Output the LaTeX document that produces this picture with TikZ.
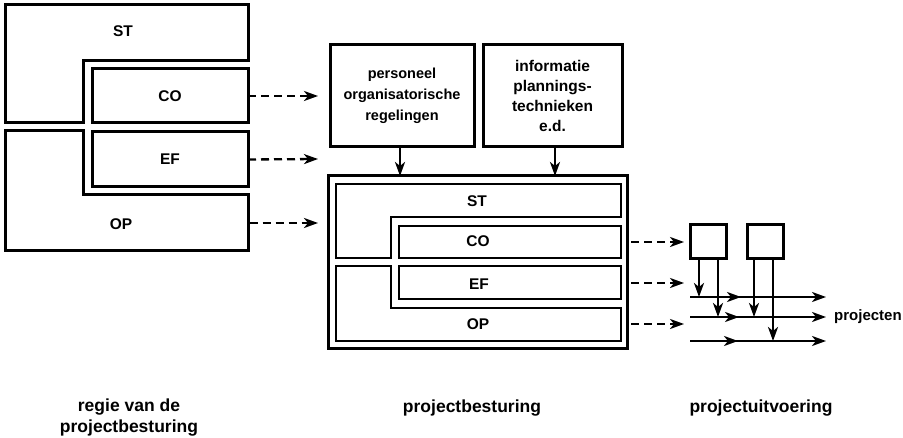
\documentclass[tikz,border=0pt]{standalone}
\usepackage{fontspec}
\setmainfont{Liberation Sans}
\usetikzlibrary{arrows.meta}

\begin{document}
\begin{tikzpicture}[x=1pt,y=-1pt,
  frame/.style={draw, line width=3pt, line join=miter},
  box/.style={draw, line width=3pt, rectangle, inner sep=0pt, outer sep=0pt},
  thinbox/.style={draw, line width=2.6pt, rectangle, inner sep=0pt, outer sep=0pt},
  lbl/.style={font=\fontsize{15.5}{18}\selectfont\bfseries, inner sep=0pt},
  txt/.style={font=\fontsize{14.5}{21}\selectfont\bfseries, align=center, inner sep=0pt},
  captext/.style={font=\fontsize{17.5}{21}\selectfont\bfseries, align=center, inner sep=0pt},
  tip/.style={-{Stealth[length=14pt,width=10pt,inset=4pt]}},
  flow/.style={line width=2.3pt, tip},
  feed/.style={line width=2.3pt, dash pattern=on 8pt off 5pt, tip},
]
\useasboundingbox (0,0) rectangle (903,438);

% ---------- regie van de projectbesturing ----------
\draw[frame] (5,5) -- (248,5) -- (248,61) -- (83,61) -- (83,123) -- (5,123) -- cycle;
\node[lbl] (lST) at (123,31) {ST};
\node[box, minimum width=156pt, minimum height=54pt] (lCO) at (170,96) {};
\node[lbl] at (lCO) {CO};
\node[box, minimum width=156pt, minimum height=55pt] (lEF) at (170,159.5) {};
\node[lbl] at (lEF) {EF};
\draw[frame] (5,131) -- (83,131) -- (83,195) -- (248,195) -- (248,251) -- (5,251) -- cycle;
\node[lbl] (lOP) at (121,224) {OP};
\coordinate (lOPe) at (249.5,223);

\coordinate (tCO) at (318,96);
\coordinate (tEF) at (318,159);
\coordinate (tOP) at (318,223);
\draw[feed] (lCO.east) -- (tCO);
\draw[feed] (lEF.east) -- (tEF);
\draw[feed] (lOPe) -- (tOP);

% ---------- projectbesturing ----------
\node[box, minimum width=144pt, minimum height=102pt, txt] (mP) at (402,96)
  {personeel\\organisatorische\\regelingen};
\node[box, minimum width=139pt, minimum height=102pt, txt,
  font=\fontsize{15.5}{20}\selectfont\bfseries] (mI) at (552.5,96)
  {informatie\\plannings-\\technieken\\e.d.};
\node[box, minimum width=299pt, minimum height=173pt] (mF) at (477.5,262.5) {};

\draw[flow] (mP.south -| 400,0) -- (mF.north -| 400,0);
\draw[flow] (mI.south -| 555,0) -- (mF.north -| 555,0);

\draw[thinbox] (336,184) -- (621,184) -- (621,217) -- (391,217) -- (391,258) -- (336,258) -- cycle;
\node[lbl] (mST) at (477,201) {ST};
\node[thinbox, minimum width=222pt, minimum height=32pt] (mCO) at (510,242) {};
\node[lbl] at (478,241) {CO};
\node[thinbox, minimum width=222pt, minimum height=33pt] (mEF) at (510,282.5) {};
\node[lbl] at (479,284) {EF};
\draw[thinbox] (336,266) -- (391,266) -- (391,308) -- (621,308) -- (621,341) -- (336,341) -- cycle;
\node[lbl] (mOP) at (478,324) {OP};

\coordinate (sCO) at (631,242);
\coordinate (sEF) at (631,283);
\coordinate (sOP) at (631,324);
\coordinate (eCO) at (684,242);
\coordinate (eEF) at (684,283);
\coordinate (eOP) at (684,324);
\draw[feed] (sCO) -- (eCO);
\draw[feed] (sEF) -- (eEF);
\draw[feed] (sOP) -- (eOP);

% ---------- projectuitvoering ----------
\node[box, minimum width=36pt, minimum height=34pt] (b1) at (708,242) {};
\node[box, minimum width=36pt, minimum height=34pt] (b2) at (765,242) {};

\coordinate (r1s) at (690,297);
\coordinate (r2s) at (690,317);
\coordinate (r3s) at (690,341);
\coordinate (r1m) at (741,297);
\coordinate (r2m) at (739,317);
\coordinate (r3m) at (738,341);
\coordinate (r1e) at (826,297);
\coordinate (r2e) at (826,317);
\coordinate (r3e) at (826,341);
\draw[flow] (r1s) -- (r1m);
\draw[flow] (r1m) ++(-5,0) -- (r1e);
\draw[flow] (r2s) -- (r2m);
\draw[flow] (r2m) ++(-5,0) -- (r2e);
\draw[flow] (r3s) -- (r3m);
\draw[flow] (r3m) ++(-5,0) -- (r3e);

\draw[flow] (b1.south -| 699,0) -- (r1s -| 699,0);
\draw[flow] (b1.south -| 718,0) -- (r2s -| 718,0);
\draw[flow] (b2.south -| 754,0) -- (r2s -| 754,0);
\draw[flow] (b2.south -| 773,0) -- (r3s -| 773,0);

\node[anchor=west, font=\fontsize{15}{18}\selectfont\bfseries, inner sep=0pt] (proj) at (834,317) {projecten};

% ---------- captions ----------
\node[captext] (c1) at (129,417.5) {regie van de\\projectbesturing};
\node[captext] (c2) at (472,408) {projectbesturing};
\node[captext] (c3) at (761,408) {projectuitvoering};
\end{tikzpicture}
\end{document}
